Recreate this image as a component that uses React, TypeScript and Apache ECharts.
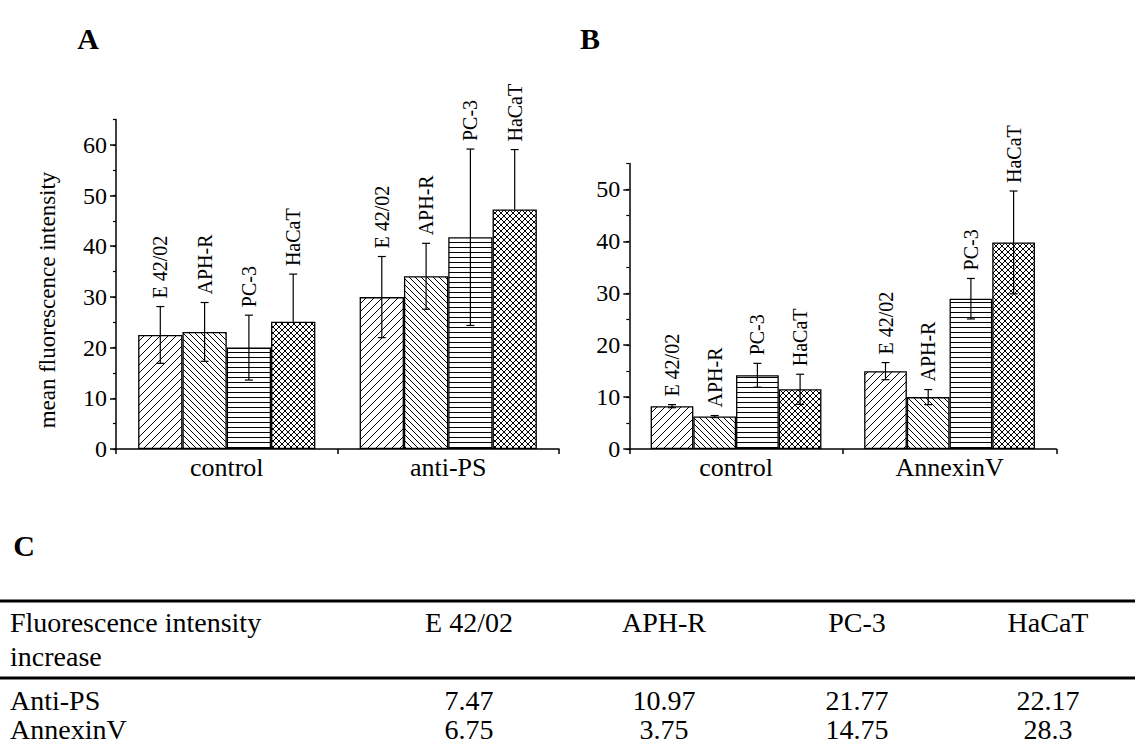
import React, { useEffect, useRef } from "react";
import * as echarts from "echarts";

const FONT = "'Liberation Serif', 'Times New Roman', Times, serif";

// cell lines (one bar series each)
const cellLines = ["E 42/02", "APH-R", "PC-3", "HaCaT"];

// panel A: x categories, means and error bars (upper / lower)
const groupsA = ["control", "anti-PS"];
const controlA = [22.5, 23.1, 20.0, 25.1];
const antiPS = [29.97, 34.07, 41.77, 47.27];
const controlAErrHigh = [5.6, 5.8, 6.4, 9.4];
const controlAErrLow = [5.6, 5.8, 6.4, 0];
const antiPSErrHigh = [8.0, 6.5, 17.4, 11.8];
const antiPSErrLow = [8.0, 6.5, 17.4, 0];

// panel B: x categories, means and error bars
const groupsB = ["control", "AnnexinV"];
const controlB = [8.25, 6.25, 14.2, 11.5];
const annexinV = [15.0, 10.0, 28.95, 39.8];
const controlBErr = [0.3, 0.2, 2.3, 2.9];
const annexinVErr = [1.65, 1.45, 3.9, 9.9];

// y-axis ticks
const ticksA = [0, 10, 20, 30, 40, 50, 60];
const ticksB = [0, 10, 20, 30, 40, 50];

// panel C table: fluorescence intensity increase
const tableTitle = ["Fluorescence intensity", "increase"];
const rowNames = ["Anti-PS", "AnnexinV"];
const increaseAntiPS = [7.47, 10.97, 21.77, 22.17];
const increaseAnnexinV = [6.75, 3.75, 14.75, 28.3];

const hatchKinds = ["fwd", "back", "horiz", "cross"];

function makeHatch(kind: string) {
  const s = kind === "fwd" ? 8 : kind === "back" ? 6 : kind === "horiz" ? 5 : 6;
  const c = document.createElement("canvas");
  c.width = s;
  c.height = s;
  const ctx = c.getContext("2d")!;
  ctx.fillStyle = "#fff";
  ctx.fillRect(0, 0, s, s);
  ctx.strokeStyle = "#000";
  ctx.lineWidth = 1;
  ctx.beginPath();
  const fwd = () => {
    for (const o of [-s, 0, s]) {
      ctx.moveTo(o, s);
      ctx.lineTo(o + s, 0);
    }
  };
  const back = () => {
    for (const o of [-s, 0, s]) {
      ctx.moveTo(o, 0);
      ctx.lineTo(o + s, s);
    }
  };
  if (kind === "fwd") fwd();
  else if (kind === "back") back();
  else if (kind === "horiz") {
    ctx.moveTo(0, 2.5);
    ctx.lineTo(s, 2.5);
  } else {
    fwd();
    back();
  }
  ctx.stroke();
  return { image: c, repeat: "repeat", imageWidth: s, imageHeight: s };
}

function errorSeries(
  xAxisIndex: number,
  yAxisIndex: number,
  groups: number[][],
  errHigh: number[][],
  errLow: number[][]
) {
  const data: number[][] = [];
  groups.forEach((vals, g) => {
    vals.forEach((v, k) => {
      data.push([g, k, v, errHigh[g][k], errLow[g][k]]);
    });
  });
  return {
    type: "custom",
    xAxisIndex,
    yAxisIndex,
    z: 5,
    silent: true,
    clip: false,
    data,
    renderItem: (params: any, api: any) => {
      const g = api.value(0);
      const k = api.value(1);
      const v = api.value(2);
      const eh = api.value(3);
      const el = api.value(4);
      const bw = api.size([1, 0])[0];
      const base = api.coord([g, v]);
      const x = base[0] + bw * (0.2 * k - 0.3);
      const yTop = api.coord([g, v + eh])[1];
      const yLow = api.coord([g, v - el])[1];
      const stroke = { stroke: "#000", lineWidth: 1.2 };
      const children: any[] = [
        { type: "line", shape: { x1: x, y1: yTop, x2: x, y2: yLow }, style: stroke },
        { type: "line", shape: { x1: x - 4, y1: yTop, x2: x + 4, y2: yTop }, style: stroke },
      ];
      if (el > 0) {
        children.push({ type: "line", shape: { x1: x - 4, y1: yLow, x2: x + 4, y2: yLow }, style: stroke });
      }
      children.push({
        type: "text",
        x: x,
        y: yTop - 8,
        rotation: Math.PI / 2,
        style: {
          text: cellLines[k],
          fontFamily: FONT,
          fontSize: 20,
          fill: "#000",
          align: "left",
          verticalAlign: "middle",
        },
      });
      return { type: "group", children };
    },
  };
}

export default function App() {
  const ref = useRef<HTMLDivElement>(null);

  useEffect(() => {
    const chart = echarts.init(ref.current!, null, { renderer: "svg" });
    const patterns = hatchKinds.map(makeHatch);

    const axisLine = { show: true, lineStyle: { color: "#000", width: 1.5 } };
    const labelStyle = { color: "#000", fontFamily: FONT };

    const xAxis = (gridIndex: number, data: string[]) => ({
      type: "category",
      gridIndex,
      data,
      axisLine,
      axisTick: { show: true, inside: false, length: 5, alignWithLabel: false, lineStyle: { color: "#000", width: 1.5 } },
      axisLabel: { ...labelStyle, fontSize: 26, margin: 5, interval: 0 },
      splitLine: { show: false },
    });

    const yMajor = (gridIndex: number, max: number, ticks: number[]) => ({
      type: "value",
      gridIndex,
      min: 0,
      max,
      interval: 10,
      position: "left",
      axisLine,
      axisTick: { show: true, inside: false, length: 6, customValues: ticks, lineStyle: { color: "#000", width: 1.5 } },
      axisLabel: { ...labelStyle, fontSize: 24, margin: 9, customValues: ticks },
      splitLine: { show: false },
    });

    const yMinor = (gridIndex: number, max: number) => ({
      type: "value",
      gridIndex,
      min: 0,
      max,
      interval: 5,
      position: "left",
      axisLine: { show: false },
      axisTick: { show: true, inside: false, length: 3, lineStyle: { color: "#000", width: 1.2 } },
      axisLabel: { show: false },
      splitLine: { show: false },
    });

    const barSeries: any[] = [];
    cellLines.forEach((name, k) => {
      barSeries.push({
        type: "bar",
        name,
        xAxisIndex: 0,
        yAxisIndex: 0,
        data: [controlA[k], antiPS[k]],
        barGap: "0%",
        barCategoryGap: "20%",
        itemStyle: { color: patterns[k], borderColor: "#000", borderWidth: 1.3 },
      });
      barSeries.push({
        type: "bar",
        name,
        xAxisIndex: 1,
        yAxisIndex: 2,
        data: [controlB[k], annexinV[k]],
        barGap: "0%",
        barCategoryGap: "20%",
        itemStyle: { color: patterns[k], borderColor: "#000", borderWidth: 1.3 },
      });
    });

    const tableCols = [469, 664, 857, 1048];
    const textStyle = (text: string, size: number, align = "center") => ({
      text,
      fontFamily: FONT,
      fontSize: size,
      lineHeight: size,
      fill: "#000",
      align,
      verticalAlign: "middle",
    });

    const graphic: any[] = [
      { type: "text", x: 88, y: 38, style: { ...textStyle("A", 30), fontWeight: "bold" } },
      { type: "text", x: 590, y: 38, style: { ...textStyle("B", 30), fontWeight: "bold" } },
      { type: "text", x: 24, y: 545, style: { ...textStyle("C", 30), fontWeight: "bold" } },
      {
        type: "text",
        x: 47,
        y: 300,
        rotation: Math.PI / 2,
        style: textStyle("mean fluorescence intensity", 23),
      },
      { type: "rect", shape: { x: 0, y: 599.5, width: 1135, height: 3 }, style: { fill: "#000" } },
      { type: "rect", shape: { x: 0, y: 676.5, width: 1135, height: 3 }, style: { fill: "#000" } },
      { type: "text", x: 10, y: 622, style: textStyle(tableTitle[0], 28, "left") },
      { type: "text", x: 10, y: 656, style: textStyle(tableTitle[1], 28, "left") },
      { type: "text", x: 10, y: 700, style: textStyle(rowNames[0], 28, "left") },
      { type: "text", x: 10, y: 729, style: textStyle(rowNames[1], 28, "left") },
    ];
    cellLines.forEach((name, k) => {
      graphic.push({ type: "text", x: tableCols[k], y: 622, style: textStyle(name, 28) });
      graphic.push({ type: "text", x: tableCols[k], y: 700, style: textStyle(String(increaseAntiPS[k]), 28) });
      graphic.push({ type: "text", x: tableCols[k], y: 729, style: textStyle(String(increaseAnnexinV[k]), 28) });
    });

    chart.setOption({
      animation: false,
      backgroundColor: "#fff",
      grid: [
        { left: 116, top: 119.5, width: 443, height: 329.5, containLabel: false },
        { left: 629.3, top: 163.5, width: 427, height: 285.5, containLabel: false },
      ],
      xAxis: [xAxis(0, groupsA), xAxis(1, groupsB)],
      yAxis: [yMajor(0, 65, ticksA), yMinor(0, 65), yMajor(1, 55, ticksB), yMinor(1, 55)],
      series: [
        ...barSeries,
        errorSeries(0, 0, [controlA, antiPS], [controlAErrHigh, antiPSErrHigh], [controlAErrLow, antiPSErrLow]),
        errorSeries(1, 2, [controlB, annexinV], [controlBErr, annexinVErr], [controlBErr, annexinVErr]),
      ],
      graphic,
    });

    return () => chart.dispose();
  }, []);

  return (
    <div
      ref={ref}
      style={{ position: "fixed", left: 0, top: 0, width: 1135, height: 752, background: "#fff" }}
    />
  );
}
